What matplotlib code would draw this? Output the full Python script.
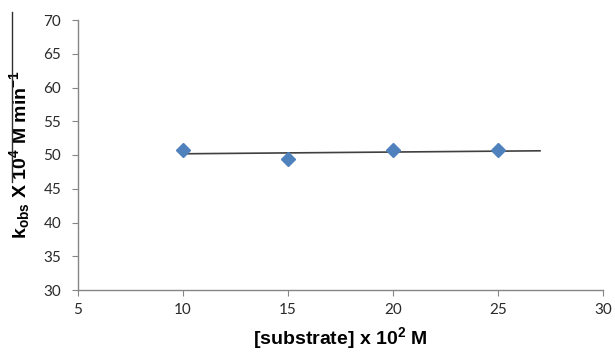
import numpy as np
import matplotlib
matplotlib.use('Agg')
import matplotlib.pyplot as plt
from matplotlib.lines import Line2D

plt.rcParams['mathtext.fontset'] = 'custom'
plt.rcParams['mathtext.bf'] = 'Liberation Sans:bold'
plt.rcParams['mathtext.rm'] = 'Liberation Sans:bold'
plt.rcParams['mathtext.it'] = 'Liberation Sans:bold'

substrate = [10, 15, 20, 25]
k_obs = [50.7, 49.4, 50.7, 50.7]
trend_end = 27

fig = plt.figure(figsize=(6.15, 3.52), dpi=100)
ax = fig.add_axes([78/615, 62/352, 525/615, 270/352])

# linear trendline, forward-extended like Excel
coef = np.polyfit(substrate, k_obs, 1)
xt = np.array([substrate[0], trend_end])
ax.plot(xt, np.polyval(coef, xt), color='#404040', lw=1.2, zorder=2)
ax.plot(substrate, k_obs, 'D', color='#4F81BD', ms=7, mec='#4F81BD', zorder=3)

ax.set_xlim(5, 30)
ax.set_ylim(30, 70)
ax.set_xticks(range(5, 31, 5))
ax.set_yticks(range(30, 71, 5))
for s in ['top', 'right']:
    ax.spines[s].set_visible(False)
for s in ['left', 'bottom']:
    ax.spines[s].set_color('#868686')
    ax.spines[s].set_linewidth(1.0)
ax.tick_params(direction='out', length=4, color='#868686', labelsize=11,
               labelcolor='#2a2a2a')
ax.tick_params(axis='y', pad=8)
ax.tick_params(axis='x', pad=5)
for lab in ax.get_xticklabels() + ax.get_yticklabels():
    lab.set_fontfamily('Lato')

ax.set_xlabel('[substrate] x 10$^{2}$ M', fontsize=14, fontweight='bold',
              family='Liberation Sans', va='bottom')
ax.xaxis.set_label_coords(0.5, -61/270)
ax.set_ylabel('k$_{obs}$ X 10$^{4}$ M min$^{-1}$', fontsize=14,
              fontweight='bold', family='Liberation Sans')
ax.yaxis.set_label_coords(-46/525, 0.5)

# stray bar at the left edge
fig.add_artist(Line2D([12/615, 12/615], [1 - 12/352, 1 - 182/352], color='#303030', lw=1.0))

fig.savefig('out.png', dpi=100)
